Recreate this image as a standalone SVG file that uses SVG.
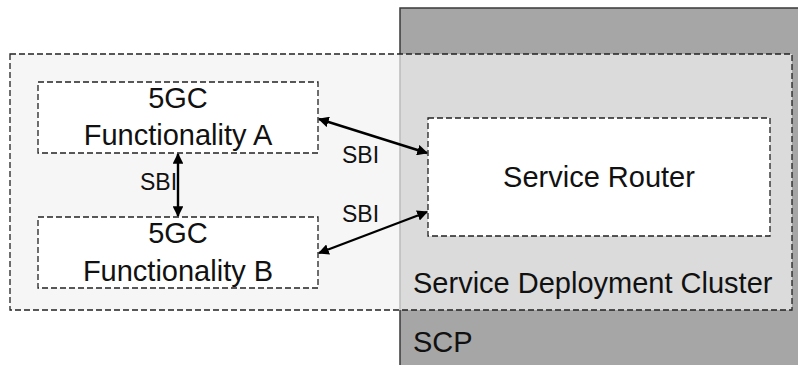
<svg xmlns="http://www.w3.org/2000/svg" width="798" height="365" viewBox="0 0 798 365">
<defs>
<style>
.lbl{font-family:"Liberation Sans",Arial,sans-serif;font-size:29px;fill:#111}
.sbi{font-family:"Liberation Sans",Arial,sans-serif;font-size:23px;fill:#111}
.dash{stroke:#222;stroke-width:1.3;stroke-dasharray:6 3}
.conn{stroke:#000;stroke-width:2.4;fill:none;marker-start:url(#ah);marker-end:url(#ah)}
</style>
<marker id="ah" viewBox="0 0 10 10" refX="9" refY="5" markerWidth="4.5" markerHeight="4.5" orient="auto-start-reverse" markerUnits="strokeWidth">
<path d="M0,0 L10,5 L0,10 z" fill="#000"/>
</marker>
</defs>
<rect width="798" height="365" fill="#fff"/>
<g id="scp">
<rect x="400" y="8" width="410" height="370" fill="#a6a6a6" stroke="#3a3a3a" stroke-width="1.5"/>
<text class="lbl" x="413" y="352">SCP</text>
</g>
<g id="cluster">
<rect x="10" y="54" width="782" height="256" fill="#f2f2f2" fill-opacity="0.7" class="dash"/>
<text class="lbl" x="413" y="293">Service Deployment Cluster</text>
</g>
<g id="funcA">
<rect x="38" y="82" width="280" height="71" fill="#fff" class="dash"/>
<text class="lbl" x="178" y="108" text-anchor="middle">5GC</text>
<text class="lbl" x="178" y="145" text-anchor="middle">Functionality A</text>
</g>
<g id="funcB">
<rect x="38" y="217" width="280" height="71" fill="#fff" class="dash"/>
<text class="lbl" x="178" y="243" text-anchor="middle">5GC</text>
<text class="lbl" x="178" y="281" text-anchor="middle">Functionality B</text>
</g>
<g id="router">
<rect x="428" y="118" width="342" height="118" fill="#fff" class="dash"/>
<text class="lbl" x="599" y="187" text-anchor="middle">Service Router</text>
</g>
<g id="connectors">
<line class="conn" x1="178" y1="154" x2="178" y2="216"/>
<line class="conn" x1="319" y1="119" x2="427" y2="153"/>
<line class="conn" x1="319" y1="253" x2="427" y2="212"/>
<text class="sbi" x="140" y="190">SBI</text>
<text class="sbi" x="342" y="163">SBI</text>
<text class="sbi" x="342" y="222">SBI</text>
</g>
</svg>
